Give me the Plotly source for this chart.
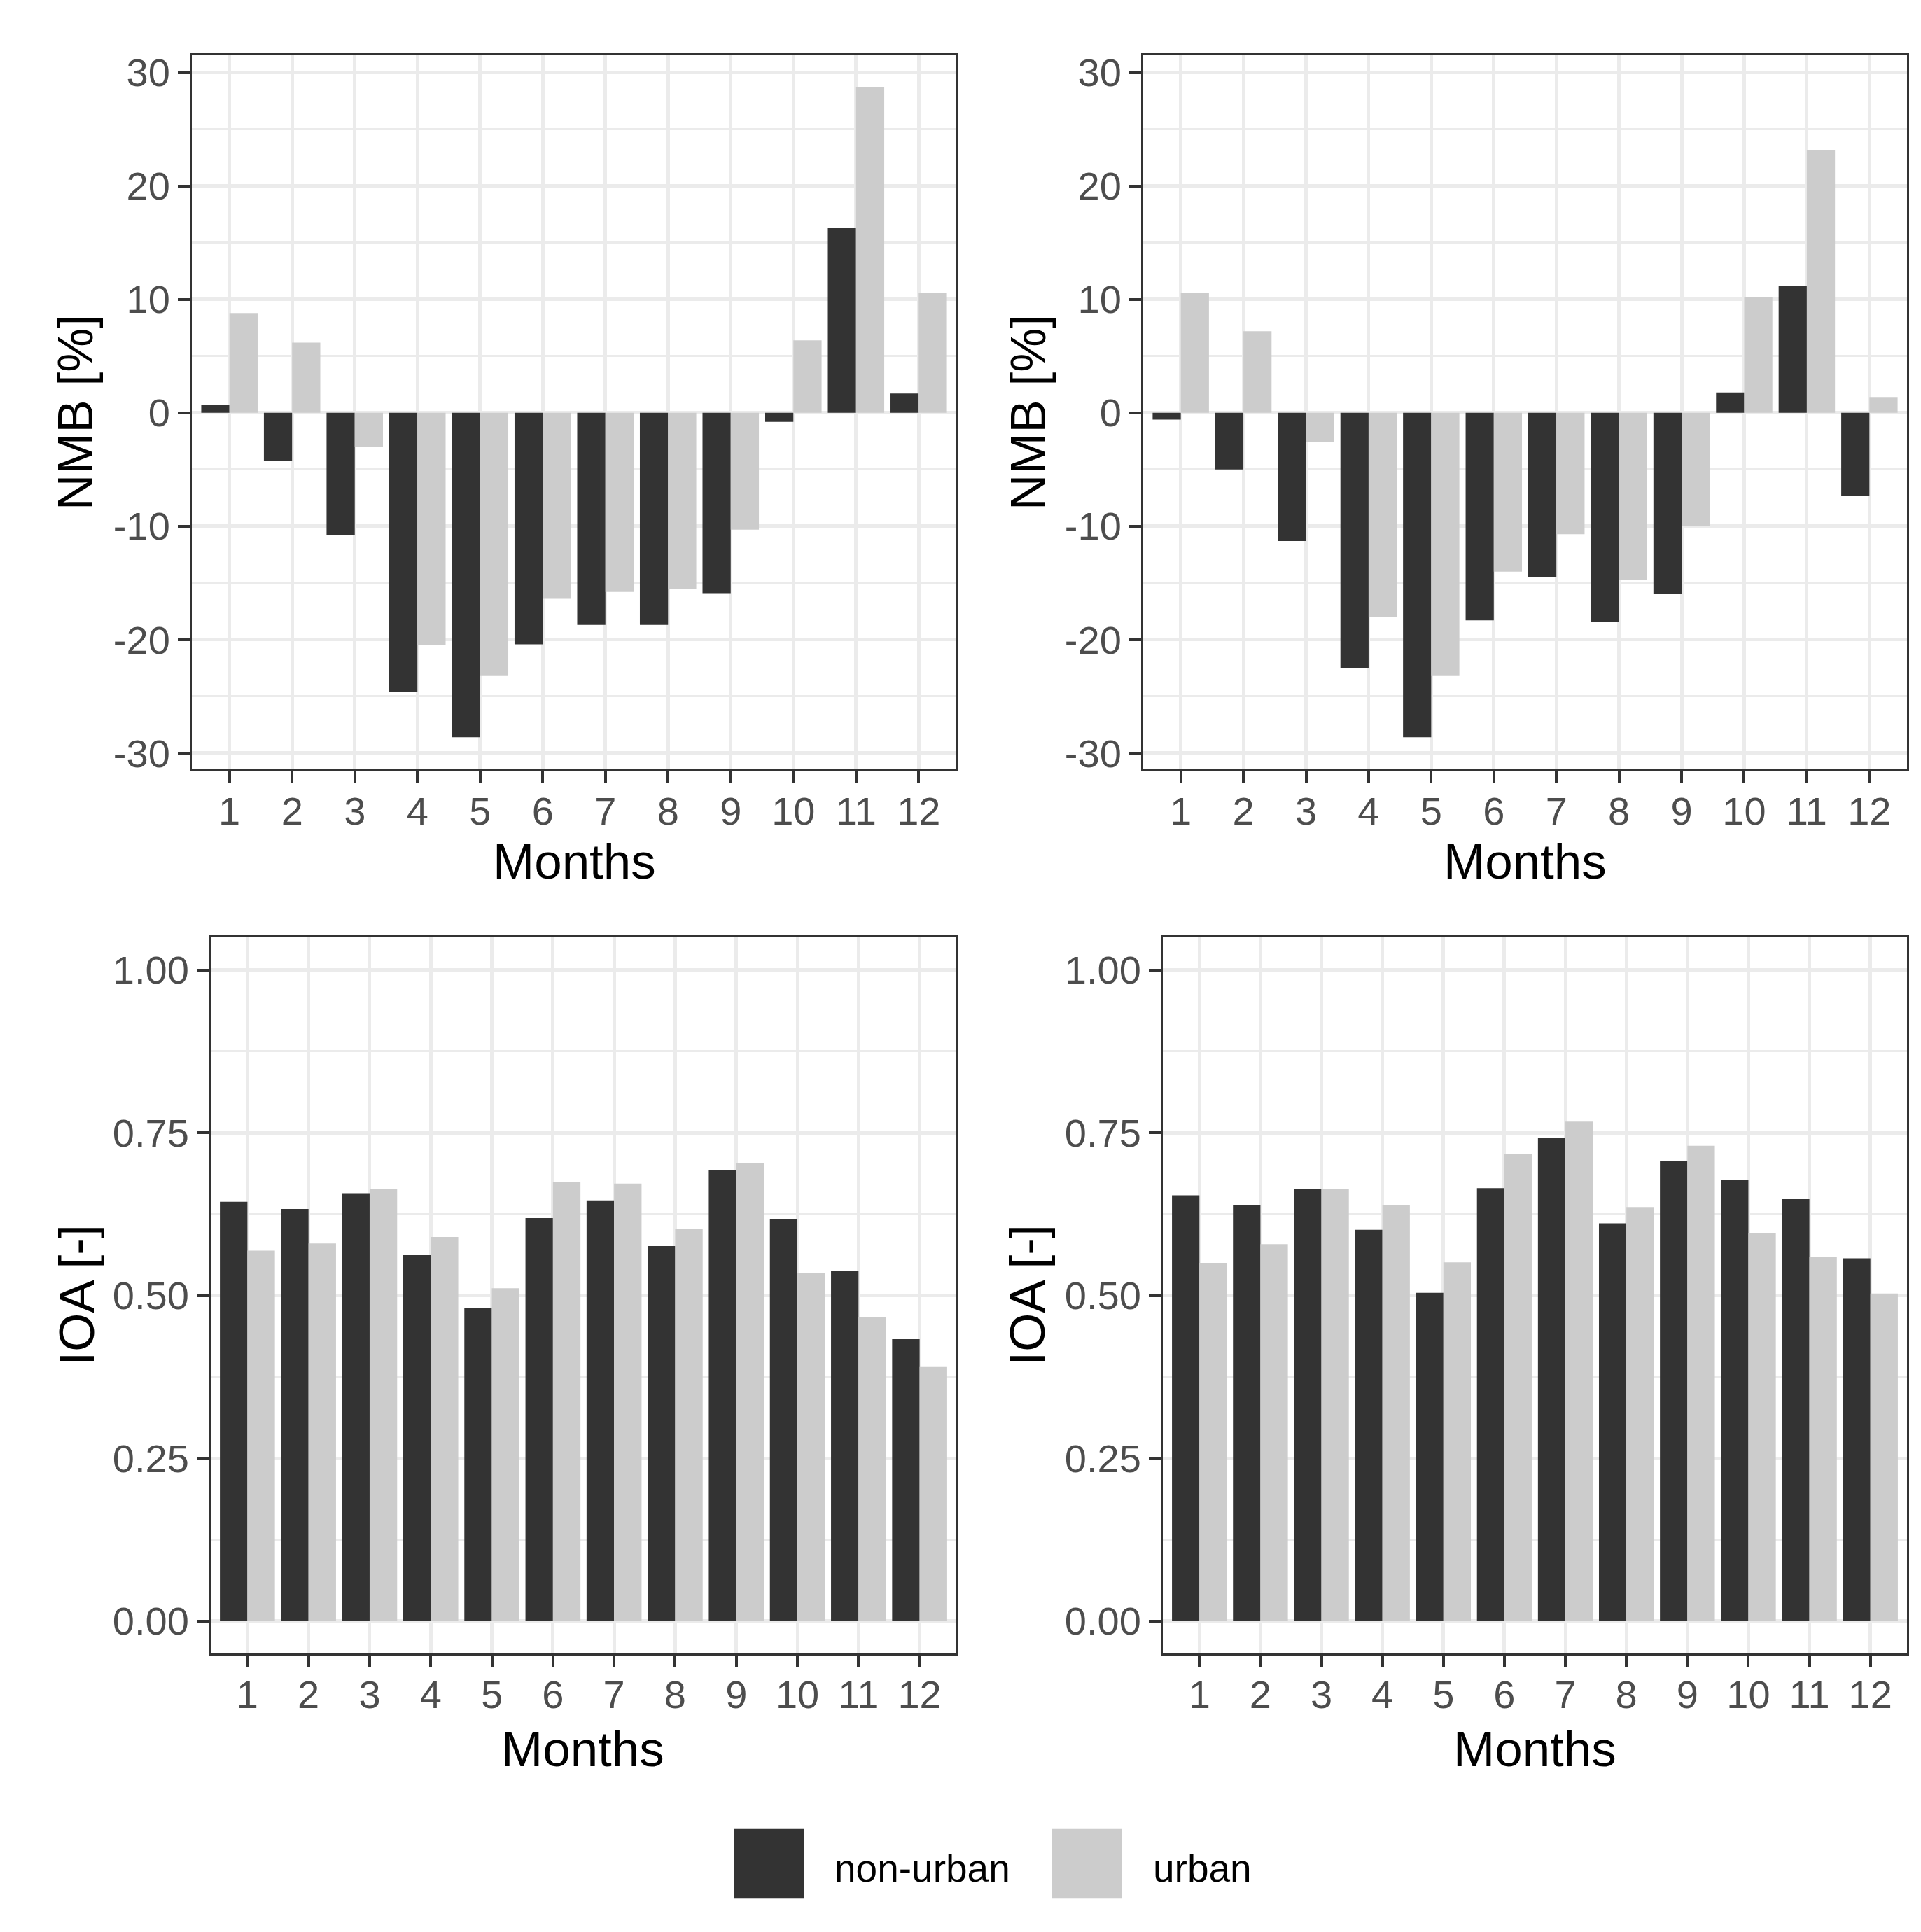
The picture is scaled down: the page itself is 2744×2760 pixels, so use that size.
import plotly.graph_objects as go
from plotly.subplots import make_subplots

# %% data
months = list(range(1, 13))

nmb_left_nonurban = [0.7, -4.2, -10.8, -24.6, -28.6, -20.4, -18.7, -18.7, -15.9, -0.8, 16.3, 1.7]
nmb_left_urban = [8.8, 6.2, -3.0, -20.5, -23.2, -16.4, -15.8, -15.5, -10.3, 6.4, 28.7, 10.6]
nmb_right_nonurban = [-0.6, -5.0, -11.3, -22.5, -28.6, -18.3, -14.5, -18.4, -16.0, 1.8, 11.2, -7.3]
nmb_right_urban = [10.6, 7.2, -2.6, -18.0, -23.2, -14.0, -10.7, -14.7, -10.0, 10.2, 23.2, 1.4]

ioa_left_nonurban = [0.644, 0.633, 0.657, 0.562, 0.481, 0.619, 0.646, 0.576, 0.692, 0.618, 0.538, 0.433]
ioa_left_urban = [0.569, 0.580, 0.663, 0.590, 0.511, 0.674, 0.672, 0.602, 0.703, 0.534, 0.467, 0.390]
ioa_right_nonurban = [0.654, 0.639, 0.663, 0.601, 0.504, 0.665, 0.742, 0.611, 0.707, 0.678, 0.648, 0.557]
ioa_right_urban = [0.550, 0.579, 0.663, 0.639, 0.551, 0.717, 0.767, 0.636, 0.730, 0.596, 0.559, 0.503]

nmb_ticks = [-30, -20, -10, 0, 10, 20, 30]
nmb_ticklabels = ["-30", "-20", "-10", "0", "10", "20", "30"]  # plain hyphen, as in the reference
ioa_ticks = [0, 0.25, 0.5, 0.75, 1.0]
ioa_ticklabels = ["0.00", "0.25", "0.50", "0.75", "1.00"]

groups = ["non-urban", "urban"]
colors = {"non-urban": "#333333", "urban": "#CCCCCC"}

# %% layout helpers (pixel -> paper)
W, H = 2744, 2760


def fx(px):
    return px / W


def fy(px):
    return 1 - px / H


fig = make_subplots(rows=2, cols=2)

panels = [
    (1, 1, nmb_left_nonurban, nmb_left_urban),
    (1, 2, nmb_right_nonurban, nmb_right_urban),
    (2, 1, ioa_left_nonurban, ioa_left_urban),
    (2, 2, ioa_right_nonurban, ioa_right_urban),
]

for row, col, nonurban, urban in panels:
    for name, values in zip(groups, [nonurban, urban]):
        fig.add_trace(
            go.Bar(
                name=name,
                x=months,
                y=values,
                marker_color=colors[name],
                marker_line_width=0,
                showlegend=False,
            ),
            row=row,
            col=col,
        )

tick_font = dict(size=56, color="#4D4D4D")
axis_style = dict(
    ticks="outside",
    ticklen=17,
    tickwidth=4,
    tickcolor="#333333",
    showline=True,
    linecolor="#333333",
    linewidth=3,
    mirror=True,
    showgrid=True,
    gridcolor="#EBEBEB",
    gridwidth=4.5,
    zeroline=False,
    tickfont=tick_font,
)

fig.update_xaxes(range=[0.4, 12.6], tickvals=months, ticklabelstandoff=-9, **axis_style)
fig.update_yaxes(ticklabelstandoff=0, **axis_style)

nmb_minor = dict(dtick=5, tick0=0, showgrid=True, gridcolor="#EBEBEB", gridwidth=2.5)
ioa_minor = dict(dtick=0.125, tick0=0, showgrid=True, gridcolor="#EBEBEB", gridwidth=2.5)

fig.update_layout(
    xaxis=dict(domain=[fx(274), fx(1366)]),
    xaxis2=dict(domain=[fx(1633), fx(2724)]),
    xaxis3=dict(domain=[fx(301), fx(1366)]),
    xaxis4=dict(domain=[fx(1661), fx(2724)]),
    yaxis=dict(domain=[fy(1099), fy(73)], range=[-31.45, 31.55],
               tickvals=nmb_ticks, ticktext=nmb_ticklabels, minor=nmb_minor),
    yaxis2=dict(domain=[fy(1099), fy(73)], range=[-31.45, 31.55],
                tickvals=nmb_ticks, ticktext=nmb_ticklabels, minor=nmb_minor),
    yaxis3=dict(domain=[fy(2368), fy(1340)], range=[-0.05, 1.05],
                tickvals=ioa_ticks, ticktext=ioa_ticklabels, minor=ioa_minor),
    yaxis4=dict(domain=[fy(2368), fy(1340)], range=[-0.05, 1.05],
                tickvals=ioa_ticks, ticktext=ioa_ticklabels, minor=ioa_minor),
)

# axis titles
title_font = dict(size=71, color="black")
titles = [
    ("Months", 820, 1231, 0),
    ("Months", 2178, 1231, 0),
    ("Months", 833, 2505, 0),
    ("Months", 2192, 2505, 0),
    ("NMB [%]", 107, 586, -90),
    ("NMB [%]", 1468, 586, -90),
    ("IOA [-]", 110, 1854, -90),
    ("IOA [-]", 1468, 1854, -90),
]
for text, px, py, angle in titles:
    fig.add_annotation(
        text=text, x=fx(px), y=fy(py), xref="paper", yref="paper",
        xanchor="center", yanchor="middle", textangle=angle,
        showarrow=False, font=title_font,
    )

# legend drawn by hand so the keys keep ggplot's size
legend_items = [("non-urban", 1049, 1190), ("urban", 1502, 1645)]
for name, key_x, text_x in legend_items:
    fig.add_shape(
        type="rect", xref="paper", yref="paper",
        x0=fx(key_x), x1=fx(key_x + 100), y0=fy(2720), y1=fy(2620),
        fillcolor=colors[name], line_width=0,
    )
    fig.add_annotation(
        text=name, x=fx(text_x), y=fy(2677), xref="paper", yref="paper",
        xanchor="left", yanchor="middle", showarrow=False,
        font=dict(size=55, color="black"),
    )

fig.update_layout(
    width=W,
    height=H,
    margin=dict(l=0, r=0, t=0, b=0),
    barmode="group",
    bargap=0.1,
    bargroupgap=0,
    showlegend=False,
    plot_bgcolor="white",
    paper_bgcolor="white",
    font=dict(family="Liberation Sans"),
)

fig.write_html(
    "out.html",
    config={"displayModeBar": False},
    post_script="document.body.style.margin='0';",
)
